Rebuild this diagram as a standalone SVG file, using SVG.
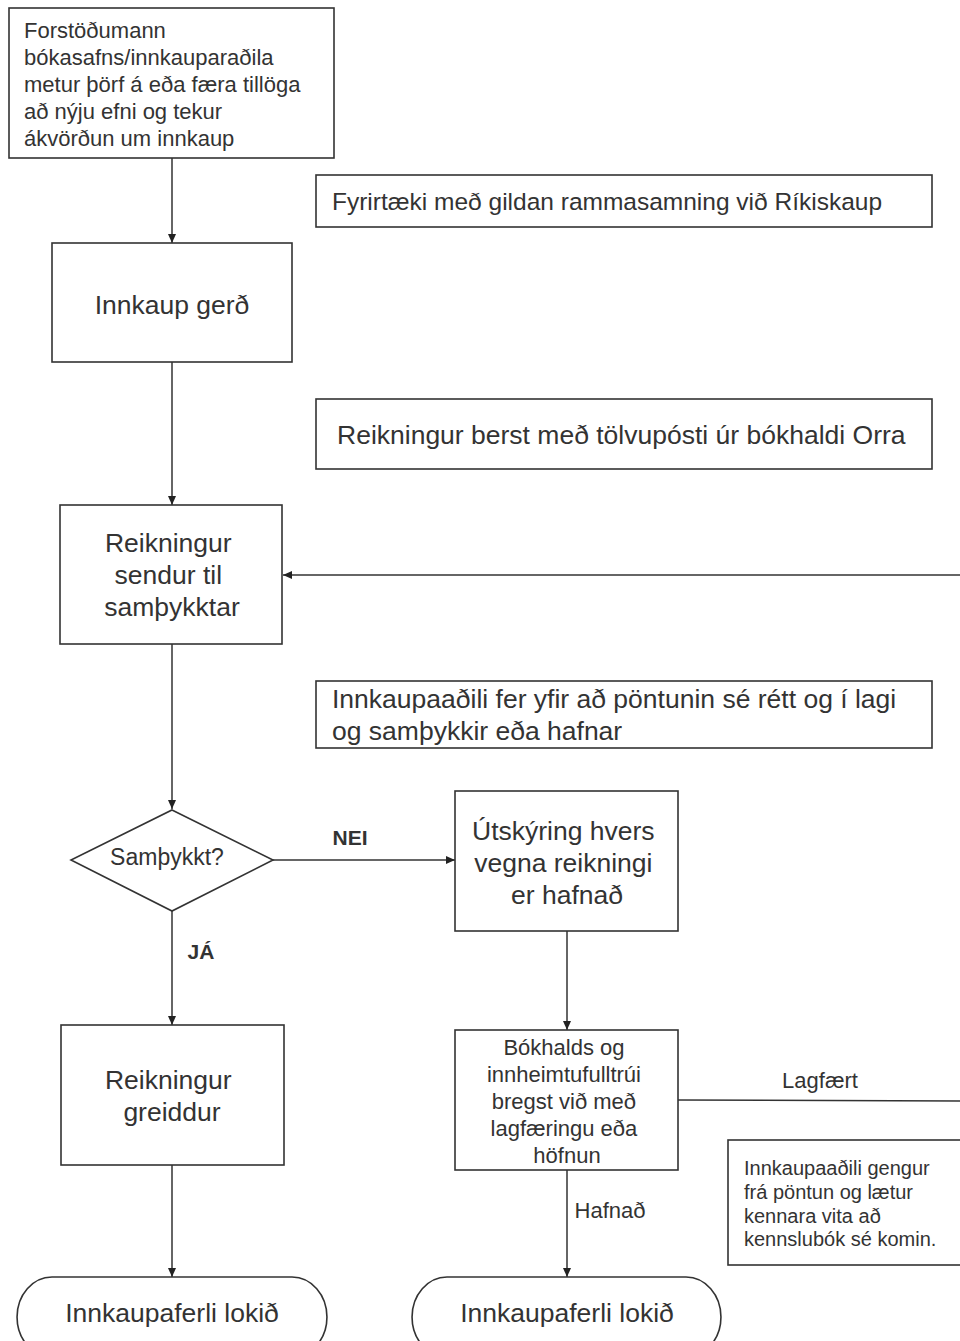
<svg xmlns="http://www.w3.org/2000/svg" width="960" height="1341" viewBox="0 0 960 1341">
<defs>
<marker id="ah" markerWidth="10" markerHeight="8" refX="9" refY="4" orient="auto" markerUnits="userSpaceOnUse">
<path d="M0,0 L9,4 L0,8 Z" fill="#222"/>
</marker>
<style>
.box{fill:#fff;stroke:#333;stroke-width:1.6}
.ln{fill:none;stroke:#333;stroke-width:1.5}
.t{font-family:"Liberation Sans",Arial,sans-serif;fill:#333}
.c{text-anchor:middle}
.b{font-weight:bold}
</style>
</defs>
<rect width="960" height="1341" fill="#fff"/>

<g id="connectors">
<line class="ln" x1="172" y1="158" x2="172" y2="243" marker-end="url(#ah)"/>
<line class="ln" x1="172" y1="362" x2="172" y2="505" marker-end="url(#ah)"/>
<line class="ln" x1="960" y1="575" x2="283" y2="575" marker-end="url(#ah)"/>
<line class="ln" x1="172" y1="644" x2="172" y2="809" marker-end="url(#ah)"/>
<line class="ln" x1="273" y1="860" x2="455" y2="860" marker-end="url(#ah)"/>
<text class="t b c" x="350" y="845" font-size="21">NEI</text>
<line class="ln" x1="172" y1="911" x2="172" y2="1025" marker-end="url(#ah)"/>
<text class="t b c" x="201" y="959" font-size="21">JÁ</text>
<line class="ln" x1="567" y1="931" x2="567" y2="1030" marker-end="url(#ah)"/>
<line class="ln" x1="678" y1="1100" x2="960" y2="1101"/>
<text class="t c" x="820" y="1088" font-size="22">Lagfært</text>
<line class="ln" x1="567" y1="1170" x2="567" y2="1277" marker-end="url(#ah)"/>
<text class="t c" x="610" y="1218" font-size="22">Hafnað</text>
<line class="ln" x1="172" y1="1165" x2="172" y2="1277" marker-end="url(#ah)"/>
</g>

<g id="n1">
<rect class="box" x="9" y="8" width="325" height="150"/>
<text class="t" font-size="22">
<tspan x="24" y="38">Forstöðumann</tspan>
<tspan x="24" y="65">bókasafns/innkauparaðila</tspan>
<tspan x="24" y="92">metur þörf á eða færa tillöga</tspan>
<tspan x="24" y="119">að nýju efni og tekur</tspan>
<tspan x="24" y="146">ákvörðun um innkaup</tspan>
</text>
</g>

<g id="n2">
<rect class="box" x="316" y="175" width="616" height="52"/>
<text class="t" font-size="24.5" x="332" y="210">Fyrirtæki með gildan rammasamning við Ríkiskaup</text>
</g>

<g id="n3">
<rect class="box" x="52" y="243" width="240" height="119"/>
<text class="t c" font-size="26.5" x="172" y="314">Innkaup gerð</text>
</g>

<g id="n4">
<rect class="box" x="316" y="399" width="616" height="70"/>
<text class="t" font-size="26.5" x="337" y="444">Reikningur berst með tölvupósti úr bókhaldi Orra</text>
</g>

<g id="n5">
<rect class="box" x="60" y="505" width="222" height="139"/>
<text class="t c" font-size="26.5">
<tspan x="172" y="552">Reikningur</tspan>
<tspan x="172" y="584">sendur til</tspan>
<tspan x="172" y="616">samþykktar</tspan>
</text>
</g>

<g id="n6">
<rect class="box" x="316" y="681" width="616" height="67"/>
<text class="t" font-size="26.5">
<tspan x="332" y="708">Innkaupaaðili fer yfir að pöntunin sé rétt og í lagi</tspan>
<tspan x="332" y="740">og samþykkir eða hafnar</tspan>
</text>
</g>

<g id="n7">
<polygon class="box" points="172,810 273,860 172,911 71,860"/>
<text class="t c" font-size="23" x="167" y="865">Samþykkt?</text>
</g>

<g id="n8">
<rect class="box" x="455" y="791" width="223" height="140"/>
<text class="t c" font-size="26.5">
<tspan x="567" y="840">Útskýring hvers</tspan>
<tspan x="567" y="872">vegna reikningi</tspan>
<tspan x="567" y="904">er hafnað</tspan>
</text>
</g>

<g id="n9">
<rect class="box" x="61" y="1025" width="223" height="140"/>
<text class="t c" font-size="26.5">
<tspan x="172" y="1089">Reikningur</tspan>
<tspan x="172" y="1121">greiddur</tspan>
</text>
</g>

<g id="n10">
<rect class="box" x="455" y="1030" width="223" height="140"/>
<text class="t c" font-size="22">
<tspan x="567" y="1055">Bókhalds og</tspan>
<tspan x="567" y="1082">innheimtufulltrúi</tspan>
<tspan x="567" y="1109">bregst við með</tspan>
<tspan x="567" y="1136">lagfæringu eða</tspan>
<tspan x="567" y="1163">höfnun</tspan>
</text>
</g>

<g id="n11">
<rect class="box" x="728" y="1140" width="240" height="125"/>
<text class="t" font-size="20">
<tspan x="744" y="1175">Innkaupaaðili gengur</tspan>
<tspan x="744" y="1199">frá pöntun og lætur</tspan>
<tspan x="744" y="1223">kennara vita að</tspan>
<tspan x="744" y="1246">kennslubók sé komin.</tspan>
</text>
</g>

<g id="n12">
<path class="box" d="M52,1277 L292,1277 A35,40 0 0 1 292,1357 L52,1357 A35,40 0 0 1 52,1277 Z"/>
<text class="t c" font-size="26.5" x="172" y="1322">Innkaupaferli lokið</text>
</g>

<g id="n13">
<path class="box" d="M447,1277 L686,1277 A35,40 0 0 1 686,1357 L447,1357 A35,40 0 0 1 447,1277 Z"/>
<text class="t c" font-size="26.5" x="567" y="1322">Innkaupaferli lokið</text>
</g>
</svg>
